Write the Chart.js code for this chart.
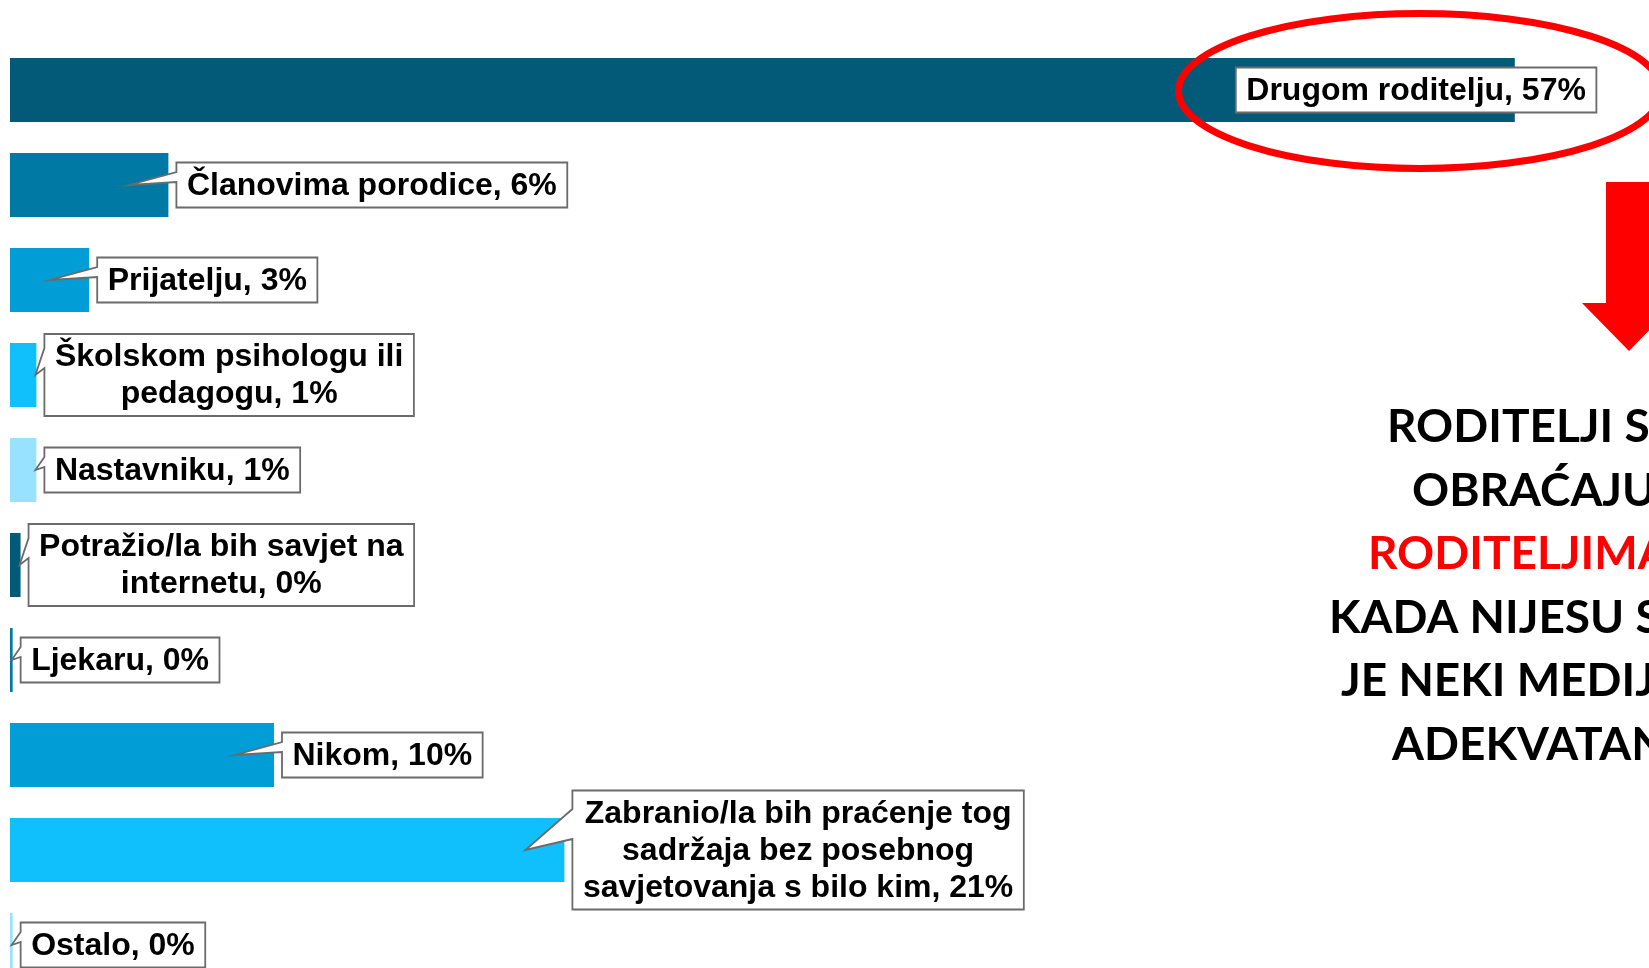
<!DOCTYPE html>
<html>
<head>
<meta charset="utf-8">
<script src="https://cdn.jsdelivr.net/npm/chart.js@4/dist/chart.umd.min.js"></script>
<style>
  html, body { margin: 0; padding: 0; background: #ffffff; overflow: hidden; width: 1649px; height: 968px; }
  #wrap { position: absolute; left: 0; top: 0; width: 1649px; height: 1000px; }
</style>
</head>
<body>
<div id="wrap"><canvas id="c" width="1649" height="1000"></canvas></div>
<script>
// ---- data ----
const categories = [
  ["Drugom roditelju"],
  ["Članovima porodice"],
  ["Prijatelju"],
  ["Školskom psihologu ili", "pedagogu"],
  ["Nastavniku"],
  ["Potražio/la bih savjet na", "internetu"],
  ["Ljekaru"],
  ["Nikom"],
  ["Zabranio/la bih praćenje tog", "sadržaja bez posebnog", "savjetovanja s bilo kim"],
  ["Ostalo"]
];
const values = [57, 6, 3, 1, 1, 0.4, 0.1, 10, 21, 0.1];      // bar lengths (%)
const shownPercent = [57, 6, 3, 1, 1, 0, 0, 10, 21, 0];       // rounded values printed in labels
const palette = ['#035A78', '#0079A5', '#009DD6', '#10C0FC', '#99E2FF'];
const noteLines = ["RODITELJI SE", "OBRAĆAJU", "RODITELJIMA", "KADA NIJESU SIGURNI", "JE NEKI MEDIJSKI SADRŽAJ", "ADEKVATAN"];
const noteRedLine = 2;

// ---- drawing ----
function labelLines(i) {
  const l = categories[i].slice();
  l[l.length - 1] = l[l.length - 1] + ', ' + shownPercent[i] + '%';
  return l;
}

const calloutPlugin = {
  id: 'callouts',
  afterDatasetsDraw(chart) {
    const ctx = chart.ctx;
    const meta = chart.getDatasetMeta(0);
    ctx.save();
    ctx.font = 'bold 32px "Liberation Sans", Arial, sans-serif';
    ctx.textAlign = 'center';
    ctx.textBaseline = 'middle';
    const lh = 37, pad = 10.5, vpad = 4;
    meta.data.forEach((bar, i) => {
      const lines = labelLines(i);
      const n = lines.length;
      const barEnd = bar.x, barStart = bar.base, cy = bar.y;
      const tw = Math.max(...lines.map(s => ctx.measureText(s).width));
      const bw = tw + 2 * pad, bh = n * lh + 2 * vpad;
      const bx = (i === 0) ? barEnd - 279 : barEnd + 8;
      const by = cy - bh / 2;
      ctx.beginPath();
      ctx.moveTo(bx, by);
      ctx.lineTo(bx + bw, by);
      ctx.lineTo(bx + bw, by + bh);
      ctx.lineTo(bx, by + bh);
      if (i !== 0) {
        const bwid = barEnd - barStart;
        const tipX = bwid > 60 ? barEnd - 39 : barEnd - 1;
        const tipY = cy;
        const baseTop = tipY - (13 + (n - 1) * 14);
        const baseBot = tipY - (3 + (n - 1) * 4);
        ctx.lineTo(bx, baseBot);
        ctx.lineTo(tipX, tipY);
        ctx.lineTo(bx, baseTop);
      }
      ctx.closePath();
      ctx.fillStyle = '#ffffff';
      ctx.fill();
      ctx.lineWidth = 1.8;
      ctx.strokeStyle = '#6b6b6b';
      ctx.stroke();
      ctx.fillStyle = '#000000';
      lines.forEach((s, k) => {
        ctx.fillText(s, bx + bw / 2, by + vpad + lh * (k + 0.5) + 1);
      });
    });

    // red ellipse around the top bar label
    ctx.beginPath();
    ctx.ellipse(1420, 91, 241.5, 77.5, 0, 0, Math.PI * 2);
    ctx.lineWidth = 7;
    ctx.strokeStyle = '#FF0000';
    ctx.stroke();

    // red down arrow
    ctx.beginPath();
    ctx.moveTo(1606, 182);
    ctx.lineTo(1652, 182);
    ctx.lineTo(1652, 303);
    ctx.lineTo(1676, 303);
    ctx.lineTo(1629, 351);
    ctx.lineTo(1582, 303);
    ctx.lineTo(1606, 303);
    ctx.closePath();
    ctx.fillStyle = '#FF0000';
    ctx.fill();

    // right-hand note
    ctx.font = 'bold 46px Lato, "Open Sans", sans-serif';
    ctx.textAlign = 'left';
    ctx.textBaseline = 'alphabetic';
    const xs = [1387, 1412, 1368, 1329, 1341, 1392];
    noteLines.forEach((s, k) => {
      ctx.fillStyle = (k === noteRedLine) ? '#FF0000' : '#000000';
      ctx.fillText(s, xs[k], 442 + k * 63.6);
    });
    ctx.restore();
  }
};

new Chart(document.getElementById('c'), {
  type: 'bar',
  data: {
    labels: categories,
    datasets: [{
      data: values,
      backgroundColor: values.map((v, i) => palette[i % palette.length]),
      borderWidth: 0,
      barPercentage: 0.674,
      categoryPercentage: 1.0
    }]
  },
  options: {
    indexAxis: 'y',
    responsive: false,
    animation: false,
    devicePixelRatio: 1,
    layout: { padding: { left: 10, right: 55, top: 42.5, bottom: 7.5 } },
    scales: {
      x: { display: false, min: 0, max: 60 },
      y: { display: false }
    },
    plugins: { legend: { display: false }, tooltip: { enabled: false } }
  },
  plugins: [calloutPlugin]
});
</script>
</body>
</html>
